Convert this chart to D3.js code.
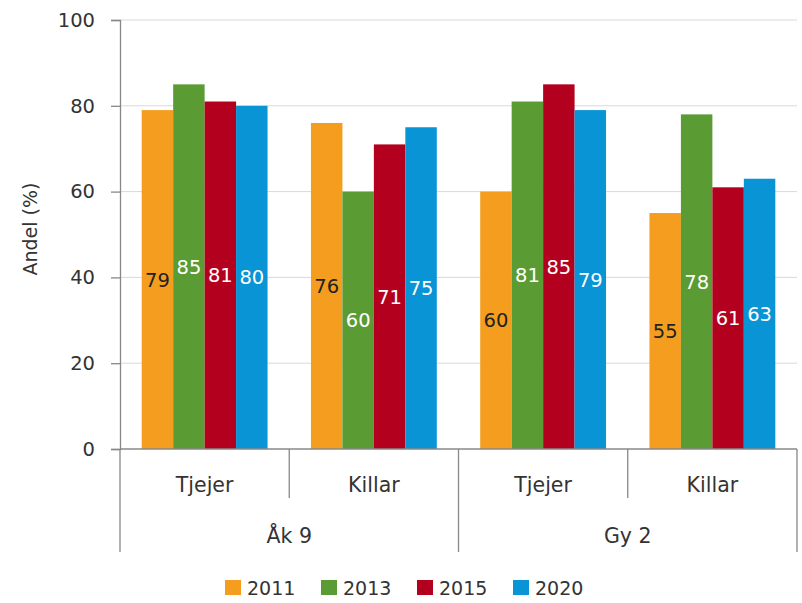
<!DOCTYPE html>
<html>
<head>
<meta charset="utf-8">
<script src="https://cdn.jsdelivr.net/npm/d3@7"></script>
<style>
  html, body { margin: 0; padding: 0; background: #fff; }
  svg text { font-family: "DejaVu Sans", sans-serif; fill: #333; }
</style>
</head>
<body>
<svg id="chart" width="802" height="603"></svg>
<script>
// Share (%) by school year, gender and survey year
const years = ["2011", "2013", "2015", "2020"];
const colors = ["#F59D1E", "#5B9B34", "#B4001F", "#0994D5"];
const labelColors = ["#222", "#fff", "#fff", "#fff"];
const schools = ["Åk 9", "Gy 2"];
const genders = ["Tjejer", "Killar"];
const values2011 = [79, 76, 60, 55];
const values2013 = [85, 60, 81, 78];
const values2015 = [81, 71, 85, 61];
const values2020 = [80, 75, 79, 63];
const yTicks = [0, 20, 40, 60, 80, 100];

const series = [values2011, values2013, values2015, values2020];
const groups = [];
schools.forEach(s => genders.forEach(g => groups.push({ school: s, gender: g, key: s + "|" + g })));
const rows = groups.map((grp, i) => ({
  ...grp,
  bars: years.map((yr, j) => ({ year: yr, idx: j, value: series[j][i] }))
}));

const svg = d3.select("#chart");
const plotLeft = 120, plotRight = 797, plotTop = 20, plotBottom = 449;

const x0 = d3.scaleBand().domain(groups.map(d => d.key)).range([plotLeft, plotRight]).padding(0);
const x1 = d3.scaleBand().domain(years).range([0, x0.bandwidth()]).paddingInner(0).paddingOuter(0.69);
const y = d3.scaleLinear().domain([0, 100]).range([plotBottom, plotTop]);
const color = d3.scaleOrdinal().domain(years).range(colors);

// horizontal gridlines
svg.append("g").selectAll("line").data(yTicks.filter(t => t > 0)).join("line")
  .attr("x1", plotLeft).attr("x2", plotRight)
  .attr("y1", d => y(d)).attr("y2", d => y(d))
  .attr("stroke", "#d9d9d9").attr("stroke-width", 1);

// y axis
const yAxis = svg.append("g").attr("transform", `translate(${plotLeft},0)`)
  .call(d3.axisLeft(y).tickValues(yTicks).tickSize(9).tickPadding(16));
yAxis.select(".domain").attr("stroke", "#888").attr("stroke-width", 1.3);
yAxis.selectAll(".tick line").attr("stroke", "#888").attr("stroke-width", 1.3);
yAxis.selectAll(".tick text").attr("font-size", 19.5).attr("fill", "#333")
  .style("font-family", '"DejaVu Sans", sans-serif');

// y axis title
svg.append("text")
  .attr("transform", "translate(37,229) rotate(-90)")
  .attr("text-anchor", "middle").attr("font-size", 19)
  .text("Andel (%)");

// bars
const g = svg.append("g").selectAll("g").data(rows).join("g")
  .attr("transform", d => `translate(${x0(d.key)},0)`);

g.selectAll("rect").data(d => d.bars).join("rect")
  .attr("x", d => x1(d.year))
  .attr("width", x1.bandwidth())
  .attr("y", d => y(d.value))
  .attr("height", d => y(0) - y(d.value))
  .attr("fill", d => color(d.year));

// value labels, centred in each bar
g.selectAll("text.val").data(d => d.bars).join("text")
  .attr("class", "val")
  .attr("x", d => x1(d.year) + x1.bandwidth() / 2)
  .attr("y", d => (y(d.value) + y(0)) / 2)
  .attr("dy", "0.36em")
  .attr("text-anchor", "middle")
  .attr("font-size", 19.5)
  .style("fill", d => labelColors[d.idx])
  .text(d => d.value);

// x axis baseline
svg.append("line").attr("x1", plotLeft).attr("x2", plotRight).attr("y1", plotBottom).attr("y2", plotBottom)
  .attr("stroke", "#888").attr("stroke-width", 1.3);

// separators between gender groups (short) and school groups (long)
const bounds = groups.map(d => x0(d.key)).concat([plotRight]);
svg.append("g").selectAll("line").data(bounds).join("line")
  .attr("x1", d => d).attr("x2", d => d)
  .attr("y1", plotBottom)
  .attr("y2", (d, i) => (i % 2 === 0 ? 552 : 498))
  .attr("stroke", "#888").attr("stroke-width", 1.3);

// gender labels
svg.append("g").selectAll("text").data(groups).join("text")
  .attr("x", d => x0(d.key) + x0.bandwidth() / 2)
  .attr("y", 492)
  .attr("text-anchor", "middle").attr("font-size", 20.5)
  .text(d => d.gender);

// school labels
svg.append("g").selectAll("text").data(schools).join("text")
  .attr("x", d => (x0(d + "|" + genders[0]) + x0(d + "|" + genders[1]) + x0.bandwidth()) / 2)
  .attr("y", 543)
  .attr("text-anchor", "middle").attr("font-size", 20.5)
  .text(d => d);

// legend
const legend = svg.append("g").selectAll("g").data(years).join("g")
  .attr("transform", (d, i) => `translate(${225 + i * 96},580)`);
legend.append("rect").attr("width", 16).attr("height", 15).attr("fill", d => color(d));
legend.append("text").attr("x", 22).attr("y", 15).attr("font-size", 19).text(d => d);
</script>
</body>
</html>
